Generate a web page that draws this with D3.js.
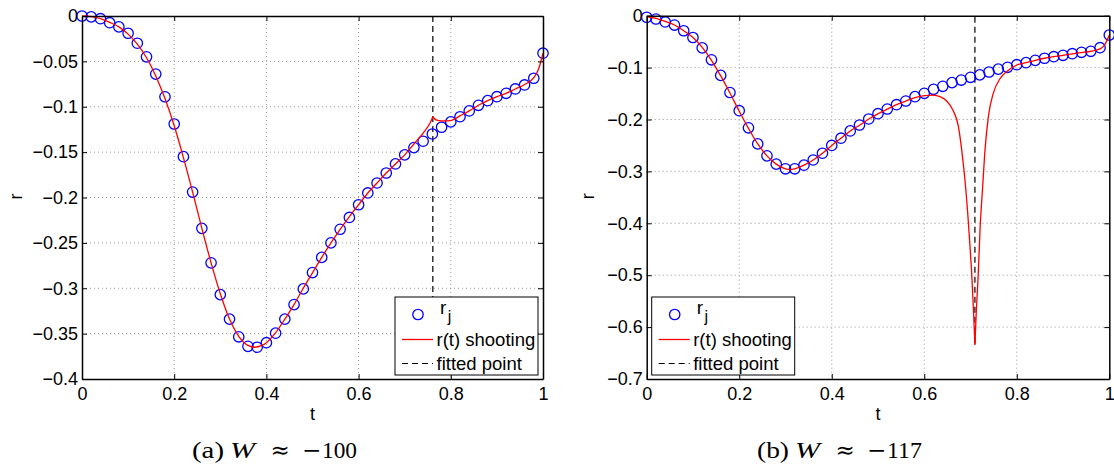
<!DOCTYPE html>
<html>
<head>
<meta charset="utf-8">
<script src="https://cdn.jsdelivr.net/npm/d3@7"></script>
<style>
  body { margin: 0; background: #fff; }
  svg { display: block; }
</style>
</head>
<body>
<svg id="chart" width="1114" height="472"></svg>
<script>
// sample grid t_j (shared by both panels)
const T = [0, 0.02, 0.04, 0.06, 0.08, 0.1, 0.12, 0.14, 0.16, 0.18, 0.2, 0.22, 0.24, 0.26, 0.28, 0.3,
    0.32, 0.34, 0.36, 0.38, 0.4, 0.42, 0.44, 0.46, 0.48, 0.5, 0.52, 0.54, 0.56, 0.58, 0.6, 0.62, 0.64,
    0.66, 0.68, 0.7, 0.72, 0.74, 0.76, 0.78, 0.8, 0.82, 0.84, 0.86, 0.88, 0.9, 0.92, 0.94, 0.96, 0.98, 1];

// (a) W ~ -100
const rjA = [0, -0.001, -0.003, -0.0074, -0.012, -0.019, -0.030, -0.045, -0.064, -0.089, -0.119, -0.155,
    -0.194, -0.234, -0.272, -0.307, -0.334, -0.3535, -0.364, -0.365, -0.360, -0.3495, -0.334, -0.318,
    -0.3007, -0.2827, -0.266, -0.250, -0.235, -0.222, -0.208, -0.195, -0.184, -0.173, -0.163, -0.153,
    -0.145, -0.138, -0.130, -0.1226, -0.1167, -0.111, -0.1046, -0.0984, -0.0933, -0.0889, -0.0852,
    -0.0804, -0.076, -0.0686, -0.041];
const shootA_fwd = [[0, 0], [0.02, -0.0008], [0.04, -0.003], [0.06, -0.007], [0.08, -0.012], [0.1, -0.020],
    [0.12, -0.031], [0.14, -0.046], [0.16, -0.066], [0.18, -0.091], [0.2, -0.121], [0.22, -0.156],
    [0.24, -0.194], [0.26, -0.234], [0.28, -0.272], [0.3, -0.306], [0.32, -0.334], [0.34, -0.353],
    [0.36, -0.363], [0.375, -0.365], [0.39, -0.363], [0.4, -0.360], [0.42, -0.349], [0.44, -0.334],
    [0.46, -0.318], [0.48, -0.300], [0.5, -0.283], [0.52, -0.266], [0.54, -0.250], [0.56, -0.235],
    [0.58, -0.221], [0.6, -0.208], [0.62, -0.195], [0.64, -0.184], [0.66, -0.173], [0.68, -0.163],
    [0.7, -0.153], [0.72, -0.141], [0.74, -0.129], [0.755, -0.118], [0.761, -0.111]];
const shootA_bwd = [[0.761, -0.111], [0.768, -0.1145], [0.78, -0.1157], [0.8, -0.1152], [0.82, -0.110],
    [0.84, -0.1046], [0.86, -0.0984], [0.88, -0.0933], [0.9, -0.0889], [0.92, -0.0852], [0.94, -0.0804],
    [0.96, -0.0755], [0.98, -0.068], [0.99, -0.059], [1, -0.041]];
const fitA = 0.761;

// (b) W ~ -117
const rjB = [-0.003, -0.0064, -0.012, -0.018, -0.029, -0.042, -0.062, -0.085, -0.115, -0.148, -0.183,
    -0.216, -0.247, -0.270, -0.286, -0.295, -0.295, -0.288, -0.278, -0.265, -0.250, -0.236, -0.222,
    -0.2106, -0.199, -0.1888, -0.1798, -0.1715, -0.1644, -0.156, -0.1495, -0.1418, -0.136, -0.129,
    -0.124, -0.1187, -0.114, -0.1085, -0.103, -0.0994, -0.0944, -0.0905, -0.086, -0.082, -0.079,
    -0.0763, -0.0732, -0.0705, -0.0686, -0.0617, -0.0372];
const shootB_fwd = [[0, -0.002], [0.02, -0.005], [0.04, -0.011], [0.06, -0.018], [0.08, -0.029],
    [0.1, -0.042], [0.12, -0.061], [0.14, -0.086], [0.16, -0.116], [0.18, -0.149], [0.2, -0.184],
    [0.22, -0.217], [0.24, -0.247], [0.26, -0.270], [0.28, -0.286], [0.3, -0.295], [0.31, -0.2965],
    [0.32, -0.295], [0.34, -0.288], [0.36, -0.278], [0.38, -0.265], [0.4, -0.250], [0.42, -0.236],
    [0.44, -0.222], [0.46, -0.211], [0.48, -0.199], [0.5, -0.189], [0.52, -0.180], [0.54, -0.1715],
    [0.56, -0.1645], [0.58, -0.158], [0.6, -0.154], [0.62, -0.153], [0.634, -0.156], [0.648, -0.164],
    [0.662, -0.182], [0.674, -0.214], [0.681, -0.259], [0.688, -0.317], [0.694, -0.381],
    [0.6985, -0.44], [0.7025, -0.496], [0.7065, -0.57], [0.7095, -0.634]];
const shootB_bwd = [[0.7095, -0.634], [0.7125, -0.57], [0.7168, -0.496], [0.7205, -0.413],
    [0.7263, -0.329], [0.7313, -0.259], [0.7385, -0.195], [0.749, -0.150], [0.764, -0.121],
    [0.782, -0.105], [0.8, -0.095], [0.82, -0.0905], [0.84, -0.086], [0.86, -0.082], [0.88, -0.079],
    [0.9, -0.0763], [0.92, -0.0735], [0.94, -0.071], [0.96, -0.0685], [0.98, -0.064], [0.99, -0.056],
    [1, -0.037]];
const fitB = 0.7095;

// ticks
const xTicks = [0, 0.2, 0.4, 0.6, 0.8, 1];
const xTickLabels = ['0', '0.2', '0.4', '0.6', '0.8', '1'];
const yTicksA = [0, -0.05, -0.1, -0.15, -0.2, -0.25, -0.3, -0.35, -0.4];
const yTickLabelsA = ['0', '\u22120.05', '\u22120.1', '\u22120.15', '\u22120.2', '\u22120.25', '\u22120.3', '\u22120.35', '\u22120.4'];
const yTicksB = [0, -0.1, -0.2, -0.3, -0.4, -0.5, -0.6, -0.7];
const yTickLabelsB = ['0', '\u22120.1', '\u22120.2', '\u22120.3', '\u22120.4', '\u22120.5', '\u22120.6', '\u22120.7'];

const svg = d3.select('#chart');
svg.append('rect').attr('width', 1114).attr('height', 472).attr('fill', '#fff');

const SANS = 'Liberation Sans, Arial, Helvetica, sans-serif';

function drawPanel(p) {
    const x = d3.scaleLinear().domain([0, 1]).range([0, p.w]);
    const y = d3.scaleLinear().domain(p.yDomain).range([p.h, 0]);
    const g = svg.append('g').attr('transform', `translate(${p.left},${p.top})`);

    // dotted grid
    g.selectAll('.gx').data(xTicks.slice(1, -1)).enter().append('line')
        .attr('x1', d => x(d)).attr('x2', d => x(d))
        .attr('y1', 0).attr('y2', p.h)
        .attr('stroke', '#9a9a9a').attr('stroke-width', 1).attr('stroke-dasharray', '1,3');
    g.selectAll('.gy').data(p.yTicks.slice(1, -1)).enter().append('line')
        .attr('x1', 0).attr('x2', p.w)
        .attr('y1', d => y(d)).attr('y2', d => y(d))
        .attr('stroke', '#9a9a9a').attr('stroke-width', 1).attr('stroke-dasharray', '1,3');

    // fitted point
    const ext = d3.extent(p.fwd.concat(p.bwd), d => d[1]);
    g.append('line')
        .attr('x1', x(p.fit)).attr('x2', x(p.fit))
        .attr('y1', y(ext[1])).attr('y2', y(ext[0]))
        .attr('stroke', '#000').attr('stroke-width', 1.2).attr('stroke-dasharray', '6,4');

    // r_j markers
    g.selectAll('.rj').data(T).enter().append('circle')
        .attr('cx', d => x(d))
        .attr('cy', (d, i) => y(p.rj[i]))
        .attr('r', 5.2)
        .attr('fill', 'none').attr('stroke', '#0000ff').attr('stroke-width', 1.3);

    // shooting solution (forward and backward branch meet at the fitted point)
    const line = d3.line().x(d => x(d[0])).y(d => y(d[1])).curve(d3.curveMonotoneX);
    [p.fwd, p.bwd].forEach(seg => {
        g.append('path').attr('d', line(seg))
            .attr('fill', 'none').attr('stroke', '#ff0000').attr('stroke-width', 1.3);
    });

    // axes, box with inward ticks
    const styleAxis = a => {
        a.select('.domain').attr('stroke', '#000').attr('stroke-width', 1.5);
        a.selectAll('.tick line').attr('stroke', '#000').attr('stroke-width', 1);
        a.selectAll('text').attr('font-family', SANS).attr('font-size', 18).attr('fill', '#000');
    };
    g.append('g').attr('transform', `translate(0,${p.h})`)
        .call(d3.axisBottom(x).tickValues(xTicks).tickSize(-5).tickSizeOuter(0).tickPadding(8)
            .tickFormat((d, i) => xTickLabels[i]))
        .call(styleAxis);
    g.append('g')
        .call(d3.axisLeft(y).tickValues(p.yTicks).tickSize(-5).tickSizeOuter(0).tickPadding(4)
            .tickFormat((d, i) => p.yLabels[i]))
        .call(styleAxis);
    g.append('g')
        .call(d3.axisTop(x).tickValues(xTicks).tickSize(-5).tickSizeOuter(0).tickFormat(''))
        .call(styleAxis);
    g.append('g').attr('transform', `translate(${p.w},0)`)
        .call(d3.axisRight(y).tickValues(p.yTicks).tickSize(-5).tickSizeOuter(0).tickFormat(''))
        .call(styleAxis);

    // axis labels
    g.append('text').attr('x', p.w / 2).attr('y', p.h + 41)
        .attr('text-anchor', 'middle').attr('font-family', SANS).attr('font-size', 18).text('t');
    g.append('text').attr('transform', `translate(${-p.rLabelGap},${p.h / 2 - 1}) rotate(-90)`)
        .attr('text-anchor', 'middle').attr('font-family', SANS).attr('font-size', 18).text('r');

    // legend
    const lw = 143, lh = 78;
    const lg = g.append('g').attr('transform', `translate(${p.legendX(lw)},${p.h - 4 - lh})`);
    lg.append('rect').attr('width', lw).attr('height', lh)
        .attr('fill', '#fff').attr('stroke', '#000').attr('stroke-width', 1);
    lg.append('circle').attr('cx', 23).attr('cy', 17.5).attr('r', 5.2)
        .attr('fill', 'none').attr('stroke', '#0000ff').attr('stroke-width', 1.3);
    const rj = lg.append('text').attr('x', 45).attr('y', 16.5)
        .attr('font-family', SANS).attr('font-size', 19);
    rj.append('tspan').text('r');
    rj.append('tspan').attr('dx', 1.5).attr('dy', 8).attr('font-size', 16).text('j');
    lg.append('line').attr('x1', 7).attr('x2', 38).attr('y1', 42.5).attr('y2', 42.5)
        .attr('stroke', '#ff0000').attr('stroke-width', 1.3);
    lg.append('text').attr('x', 41.5).attr('y', 49)
        .attr('font-family', SANS).attr('font-size', 18.5).text('r(t) shooting');
    lg.append('line').attr('x1', 7).attr('x2', 38).attr('y1', 66.5).attr('y2', 66.5)
        .attr('stroke', '#000').attr('stroke-width', 1.2).attr('stroke-dasharray', '6,4');
    lg.append('text').attr('x', 41.5).attr('y', 73)
        .attr('font-family', SANS).attr('font-size', 18.5).text('fitted point');

    // caption
    const cap = svg.append('g').attr('transform', `translate(${p.capX},458)`);
    const parts = [
        { dx: 0, text: p.capTag, font: 'Liberation Serif', style: 'normal', len: 32 },
        { dx: 38, text: 'W', font: 'Liberation Serif', style: 'italic', len: 25 },
        { dx: 78.5, text: '\u2248', font: 'DejaVu Serif', style: 'normal', len: null },
        { dx: 110, text: '\u2212', font: 'DejaVu Serif', style: 'normal', len: null },
        { dx: 130, text: p.capNum, font: 'Liberation Serif', style: 'normal', len: 35 }
    ];
    parts.forEach(c => {
        const t = cap.append('text').attr('x', c.dx).attr('y', 0)
            .attr('font-family', c.font).attr('font-style', c.style)
            .attr('font-size', 23).attr('fill', '#000')
            .text(c.text);
        if (c.len) t.attr('textLength', c.len).attr('lengthAdjust', 'spacingAndGlyphs');
    });
}

drawPanel({
    left: 82, top: 16, w: 461, h: 363,
    yDomain: [-0.4, 0], yTicks: yTicksA, yLabels: yTickLabelsA,
    rj: rjA, fwd: shootA_fwd, bwd: shootA_bwd, fit: fitA,
    rLabelGap: 60, legendX: lw => 461 - 5 - lw,
    capX: 192, capTag: '(a)', capNum: '100'
});
drawPanel({
    left: 646.7, top: 15.7, w: 462.6, h: 363.3,
    yDomain: [-0.7, 0], yTicks: yTicksB, yLabels: yTickLabelsB,
    rj: rjB, fwd: shootB_fwd, bwd: shootB_bwd, fit: fitB,
    rLabelGap: 53, legendX: lw => 5,
    capX: 757, capTag: '(b)', capNum: '117'
});
</script>
</body>
</html>
